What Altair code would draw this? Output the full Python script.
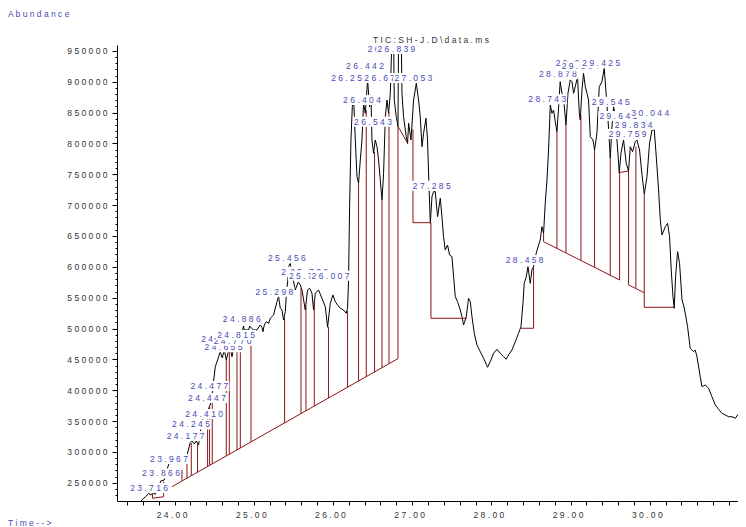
import altair as alt
import pandas as pd

# ---------------- data ----------------
trace_time = [
    23.560, 23.600, 23.643, 23.672, 23.702, 23.727, 23.756, 23.794, 23.826, 23.870,
    23.902, 23.939, 24.009, 24.060, 24.110, 24.157, 24.198, 24.220, 24.249, 24.274,
    24.303, 24.337, 24.362, 24.400, 24.442, 24.463, 24.492, 24.514, 24.543, 24.577,
    24.602, 24.628, 24.653, 24.678, 24.703, 24.725, 24.747, 24.766, 24.788, 24.830,
    24.871, 24.880, 24.934, 24.949, 24.968, 24.997, 25.040, 25.082, 25.104, 25.116,
    25.133, 25.158, 25.187, 25.208, 25.250, 25.293, 25.313, 25.335, 25.356, 25.376,
    25.398, 25.410, 25.427, 25.439, 25.461, 25.486, 25.524, 25.562, 25.587, 25.609,
    25.650, 25.679, 25.705, 25.735, 25.755, 25.777, 25.818, 25.861, 25.903, 25.932,
    25.966, 26.000, 26.029, 26.058, 26.092, 26.134, 26.168, 26.184, 26.197, 26.210,
    26.227, 26.244, 26.260, 26.282, 26.303, 26.323, 26.345, 26.366, 26.386, 26.408,
    26.420, 26.437, 26.462, 26.480, 26.492, 26.513, 26.534, 26.556, 26.576, 26.597,
    26.619, 26.639, 26.661, 26.682, 26.702, 26.724, 26.745, 26.765, 26.774, 26.799,
    26.821, 26.828, 26.862, 26.871, 26.891, 26.925, 26.942, 26.955, 26.985, 27.018,
    27.052, 27.081, 27.102, 27.124, 27.144, 27.174, 27.194, 27.210, 27.229, 27.250,
    27.270, 27.291, 27.321, 27.355, 27.376, 27.396, 27.418, 27.447, 27.472, 27.502,
    27.523, 27.544, 27.573, 27.607, 27.629, 27.649, 27.683, 27.712, 27.734, 27.755,
    27.784, 27.818, 27.860, 27.902, 27.952, 27.986, 28.028, 28.071, 28.112, 28.154,
    28.188, 28.217, 28.260, 28.302, 28.343, 28.374, 28.399, 28.415, 28.441, 28.462,
    28.491, 28.512, 28.532, 28.566, 28.596, 28.617, 28.638, 28.659, 28.680, 28.702,
    28.722, 28.744, 28.765, 28.785, 28.807, 28.828, 28.848, 28.869, 28.891, 28.914,
    28.942, 28.967, 28.996, 29.018, 29.038, 29.059, 29.088, 29.110, 29.122, 29.144,
    29.164, 29.186, 29.207, 29.227, 29.249, 29.283, 29.303, 29.333, 29.362, 29.396,
    29.425, 29.450, 29.480, 29.501, 29.523, 29.543, 29.564, 29.586, 29.615, 29.636,
    29.669, 29.703, 29.732, 29.754, 29.783, 29.817, 29.838, 29.871, 29.902, 29.931,
    29.965, 29.997, 30.028, 30.057, 30.082, 30.111, 30.133, 30.154, 30.196, 30.225,
    30.250, 30.271, 30.293, 30.309, 30.326, 30.351, 30.376, 30.407, 30.427, 30.448,
    30.477, 30.511, 30.553, 30.574, 30.596, 30.637, 30.659, 30.700, 30.742, 30.785,
    30.827, 30.869, 30.912, 30.953, 30.995, 31.038, 31.080, 31.109, 31.143, 31.184,
    31.218,
]
trace_abundance = [
    218000, 223500, 228400, 232800, 230100, 233800, 231200, 241400, 252800, 254400,
    270600, 284400, 285200, 283000, 282800, 294900, 314900, 318100, 312800, 317600,
    311100, 343600, 359000, 358200, 374400, 380900, 413800, 438100, 449000, 462400,
    452200, 465200, 449000, 461900, 467900, 454300, 468400, 461900, 467900, 481400,
    504100, 497700, 497700, 504100, 500900, 497700, 497700, 505700, 502000, 494800,
    505700, 511100, 508500, 516600, 521900, 543500, 551600, 532800, 530000, 513800,
    527300, 551600, 575900, 600200, 605800, 586800, 562500, 575400, 570600, 562500,
    530000, 562500, 565200, 557100, 530000, 557100, 562500, 549000, 535400, 502000,
    540900, 554400, 543500, 538100, 532800, 530000, 524700, 533300, 578700, 697500,
    805700, 859700, 875900, 805700, 746200, 735500, 773300, 805700, 865200, 849000,
    870500, 903000, 859700, 875900, 805700, 784100, 805700, 794800, 773300, 740800,
    708400, 751700, 843500, 870500, 849000, 881400, 975000, 975000, 870500, 843500,
    828000, 975000, 975000, 881400, 843500, 811000, 800000, 832800, 805700, 870500,
    897600, 870500, 843500, 794800, 816500, 840900, 805700, 740800, 670600, 713800,
    721900, 721900, 681300, 711200, 681300, 648900, 627300, 635400, 619200, 616500,
    584000, 551600, 543500, 530000, 519200, 505700, 519200, 549000, 543500, 519200,
    492300, 473300, 462400, 451700, 437100, 446200, 459800, 466300, 459800, 454300,
    450100, 457100, 465200, 478600, 492300, 503000, 540900, 573300, 584000, 600200,
    573300, 594900, 600200, 622000, 635400, 643500, 665100, 654400, 703000, 740800,
    789500, 862400, 849000, 854200, 835400, 819200, 857100, 900200, 881400, 870500,
    830000, 881400, 903000, 900200, 881400, 892100, 908300, 849000, 838100, 886800,
    913800, 892100, 881400, 870500, 811000, 805700, 789500, 816500, 892100, 900200,
    922000, 878700, 824700, 776000, 827300, 859700, 846200, 805700, 752700, 784100,
    805700, 767900, 755400, 794800, 786700, 802900, 805700, 789500, 748900, 718100,
    746200, 800300, 821900, 821900, 778600, 724600, 676000, 651600, 665100, 670600,
    648900, 594900, 551600, 532800, 584000, 624600, 605800, 546200, 538100, 524700,
    503000, 467900, 462400, 465200, 454300, 421900, 405700, 408400, 403100, 389400,
    376000, 369000, 362500, 359800, 357000, 357000, 354400, 359800, 357000, 347900,
    351700,
]

# integration marks (baselines and drop lines): start time/abundance -> end time/abundance
seg_t1 = [23.722, 23.722, 23.861, 23.967,
          24.093, 24.157, 24.211, 24.290, 24.417, 24.442, 24.476, 24.653, 24.691, 24.788,
          24.830, 24.965, 25.389, 25.596, 25.659, 25.764, 25.944, 26.184, 26.323, 26.420,
          26.525, 26.619, 26.707, 26.821,
          26.821, 27.010, 27.010, 27.237, 27.237,
          28.374, 28.533,
          28.659, 28.659, 28.828, 28.942, 29.131, 29.303, 29.501, 29.619,
          29.606, 29.732, 29.732, 29.825, 29.930, 29.930]
seg_a1 = [224700, 224700, 227300, 243500,
          252700, 257300, 261300, 267000, 276200, 278100, 280500, 293400, 296200, 303200,
          306300, 316100, 347000, 362000, 366600, 374300, 387400, 404800, 415000, 422000,
          429600, 436500, 442900, 451200,
          828000, 823200, 671600, 671600, 516600,
          500400, 500400,
          640800, 640800, 629900, 622500, 610300, 599100, 586300, 578700,
          752700, 755400, 570600, 565200, 534400, 534400]
seg_t2 = [23.722, 23.861, 23.861, 26.821,
          24.093, 24.157, 24.211, 24.290, 24.417, 24.442, 24.476, 24.653, 24.691, 24.788,
          24.830, 24.965, 25.389, 25.596, 25.659, 25.764, 25.944, 26.184, 26.323, 26.420,
          26.525, 26.619, 26.707, 26.821,
          26.942, 27.010, 27.237, 27.237, 27.692,
          28.533, 28.533,
          29.619, 28.659, 28.828, 28.942, 29.131, 29.303, 29.501, 29.619,
          29.732, 29.732, 29.930, 29.825, 29.930, 30.309]
seg_a2 = [234000, 227300, 252000, 451200,
          270600, 294900, 314400, 314400, 358200, 374400, 384100, 449000, 465200, 468000,
          481400, 497700, 517100, 566000, 536500, 546200, 502500, 528400, 735500, 854200,
          786200, 708400, 851100, 828000,
          800300, 671600, 671600, 516600, 516600,
          500400, 600200,
          578700, 654400, 819200, 830000, 845000, 789500, 776000, 752700,
          755400, 570600, 558100, 795000, 718100, 534400]

# peak labels (in drawing order): retention time text and the abundance where the label sits
peak_rt = ["23.716", "23.866", "23.967", "24.177", "24.245", "24.410", "24.447", "24.477",
           "24.613", "24.655", "24.770", "24.815", "24.886", "25.298", "25.456", "25.625",
           "25.736", "25.720", "26.007", "26.254", "26.404", "26.442", "26.543", "26.672",
           "26.716", "26.839", "27.053", "27.285", "28.458", "28.743", "28.878", "29.088",
           "29.164", "29.425", "29.545", "29.641", "29.759", "29.834", "30.044"]
peak_label_abundance = [241400, 264900, 288400, 325700, 344400, 361400, 387300, 406800,
                        482500, 469500, 480300, 489500, 515000, 559700, 613900, 592100,
                        592100, 585500, 585500, 906200, 870500, 925500, 835400, 906200,
                        953300, 953300, 906200, 731600, 611100, 871700, 912200, 930100,
                        925000, 930100, 867800, 844600, 815400, 830000, 850000]

x_tick_values = [round(23.4 + 0.2 * i, 1) for i in range(39)]
y_tick_values = list(range(230000, 960000, 10000))

title_text = "TIC: SH-J.D\\data.ms"
y_title_text = "Abundance"
x_title_text = "Time-->"

# ---------------- styling ----------------
FONT = "Liberation Sans"
FS = 8.5
BLUE = "#4a4ab8"
RED = "#8b1414"
W, H = 621, 456

xs = alt.Scale(domain=[23.273, 31.114], nice=False, zero=False)
ys = alt.Scale(domain=[220300, 959700], nice=False, zero=False)

x_axis = alt.Axis(values=x_tick_values, title=None, grid=False,
                  labelExpr="(abs(datum.value - round(datum.value)) < 0.001 && datum.value < 30.5) ? join(split(format(datum.value, '.2f'), ''), ' ') : ''",
                  tickSize=4, tickColor="black", domainColor="black",
                  labelFont=FONT, labelFontSize=FS, labelColor="#333333",
                  labelPadding=5, labelOffset=-3, labelOverlap=False, labelFlush=False)
y_axis = alt.Axis(values=y_tick_values, title=None, grid=False,
                  labelExpr="datum.value % 50000 == 0 ? join(split(format(datum.value, 'd'), ''), ' ') : ''",
                  tickSize={"condition": {"test": "datum.value % 50000 == 0", "value": 5}, "value": 2},
                  tickColor="black", domainColor="black",
                  labelFont=FONT, labelFontSize=FS, labelColor="#333333",
                  labelPadding=5, labelOverlap=False, labelFlush=False)


def X(field):
    return alt.X(field, type="quantitative", scale=xs, axis=x_axis)


def Y(field):
    return alt.Y(field, type="quantitative", scale=ys, axis=y_axis)


trace_df = pd.DataFrame({"t": trace_time, "a": trace_abundance})
trace = alt.Chart(trace_df).mark_line(color="black", strokeWidth=1, clip=True).encode(
    x=X("t"), y=Y("a"), order="t:Q")

seg_df = pd.DataFrame({"t1": seg_t1, "a1": seg_a1, "t2": seg_t2, "a2": seg_a2})
segs = alt.Chart(seg_df).mark_rule(color=RED, strokeWidth=1, clip=True).encode(
    x=X("t1"), y=Y("a1"), x2="t2:Q", y2="a2:Q")

layers = [trace, segs]
for rt, ab in zip(peak_rt, peak_label_abundance):
    d = pd.DataFrame({"rt": [rt], "t": [float(rt)], "a": [ab]})
    box = alt.Chart(d).mark_rect(color="white", xOffset=-23, x2Offset=17,
                                 yOffset=-5, y2Offset=5).encode(
        x=X("t"), x2="t:Q", y=Y("a"), y2="a:Q")
    txt = alt.Chart(d).transform_calculate(
        lab="join(split(datum.rt, ''), ' ')").mark_text(
        font=FONT, fontSize=FS, color=BLUE, dx=-3, baseline="middle", align="center").encode(
        x=X("t"), y=Y("a"), text="lab:N")
    layers += [box, txt]


def static_text(s, px, py, color, align="left"):
    d = pd.DataFrame({"s": [s]})
    return alt.Chart(d).transform_calculate(
        lab="join(split(datum.s, ''), ' ')").mark_text(
        font=FONT, fontSize=FS, color=color, align=align, baseline="middle").encode(
        x=alt.value(px), y=alt.value(py), text="lab:N")


layers += [
    static_text(title_text, 314, -5, "#333333", "center"),
    static_text(y_title_text, -109, -31, BLUE),
    static_text(x_title_text, -109, 478, BLUE),
]

chart = alt.layer(*layers).properties(
    width=W, height=H, autosize="none",
    padding={"left": 109, "top": 37, "right": 0, "bottom": 26},
).configure_view(strokeWidth=0)

chart.save("out.html", embed_options={"renderer": "svg", "actions": False})
